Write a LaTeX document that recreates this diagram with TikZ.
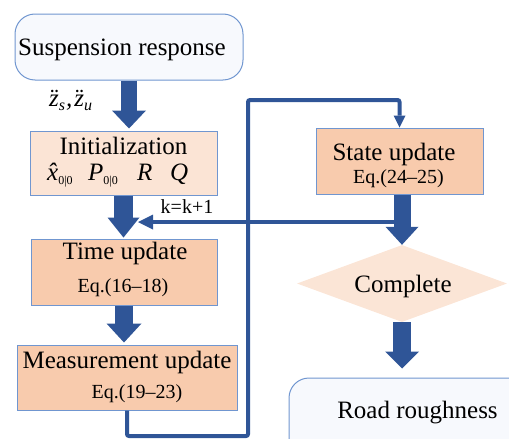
\documentclass[tikz,border=0pt]{standalone}
\usepackage{fontspec}
\setmainfont{LiberationSerif}[
  Extension=.ttf,
  UprightFont=*-Regular,
  ItalicFont=*-Italic,
  BoldFont=*-Bold,
  BoldItalicFont=*-BoldItalic]
\usetikzlibrary{arrows.meta,shapes.geometric}

\definecolor{flowblue}{RGB}{47,85,151}
\definecolor{edgeblue}{RGB}{112,150,208}
\definecolor{peach}{RGB}{248,203,173}
\definecolor{lightpeach}{RGB}{251,228,213}
\definecolor{diamondfill}{RGB}{251,229,214}
\definecolor{paleblue}{RGB}{247,249,253}

\newcommand\bigtext{\fontsize{25}{28}\selectfont}
\newcommand\eqtext{\fontsize{20}{24}\selectfont}
\newcommand\lowidx[2]{\raisebox{-0.4ex}{\fontsize{#1}{#1}\selectfont #2}}

\begin{document}
\begin{tikzpicture}[x=1pt,y=-1pt,
  box/.style={draw=edgeblue, line width=1pt, inner sep=0pt},
  label/.style={inner sep=0pt, anchor=base, font=\bigtext},
  eqlabel/.style={inner sep=0pt, anchor=base, font=\eqtext},
  thinflow/.style={draw=flowblue, line width=4pt, rounded corners=2pt},
  blockflow/.style={draw=flowblue, line width=#1},
]
\useasboundingbox (0,0) rectangle (509,439);
\clip (0,0) rectangle (509,439);

% ---- boxes ----
\node[box, fill=paleblue, rounded corners=20pt, minimum width=228pt, minimum height=66pt] (susp) at (129,47) {};
\node[box, fill=lightpeach, minimum width=187pt, minimum height=64pt] (init) at (123.5,163) {};
\node[box, fill=peach, minimum width=186pt, minimum height=66pt] (time) at (124,272) {};
\node[box, fill=peach, minimum width=220pt, minimum height=65pt] (meas) at (127,377.5) {};
\node[box, fill=peach, minimum width=167pt, minimum height=66pt] (state) at (399.5,161) {};
\node[diamond, fill=diamondfill, inner sep=0pt, minimum width=210pt, minimum height=77pt] (done) at (402,283.5) {};
\node[box, fill=paleblue, rounded corners=20pt, minimum width=251pt, minimum height=92pt] (road) at (414.5,424) {};

% ---- texts ----
\node[label] (susptext) at (122,55) {Suspension response};
\node[label] (inittext) at (123.5,154) {Initialization};
\node[label] (timetext) at (125,259) {Time update};
\node[eqlabel] (timeeq) at (123,292) {Eq.(16–18)};
\node[label] (meastext) at (127,368) {Measurement update};
\node[eqlabel] (measeq) at (137,398) {Eq.(19–23)};
\node[label] (statetext) at (394,160) {State update};
\node[eqlabel] (stateeq) at (398.5,183) {Eq.(24–25)};
\node[label] (donetext) at (403,292) {Complete};
\node[label] (roadtext) at (417.5,418) {Road roughness};

% signals entering the filter
\node[inner sep=0pt, anchor=base west, font=\bigtext\itshape] (zsig) at (49,106)
  {\"z\lowidx{16}{s}\kern1pt,\kern2pt\"z\lowidx{16}{u}};

% initial values
\node[inner sep=0pt, anchor=base west, font=\bigtext\itshape] (xinit) at (47,180) {\^x\lowidx{12}{\upshape 0|0}};
\node[inner sep=0pt, anchor=base west, font=\bigtext\itshape] (pinit) at (88,180) {P\lowidx{12}{\upshape 0|0}};
\node[inner sep=0pt, anchor=base west, font=\bigtext\itshape] (rinit) at (137,180) {R};
\node[inner sep=0pt, anchor=base west, font=\bigtext\itshape] (qinit) at (170,180) {Q};

% ---- loop connectors ----
\coordinate (loopbl) at (248,436);
\coordinate (looptl) at (248,100);
\draw[thinflow, -{Triangle[width=12pt,length=12pt,line width=0pt]}]
  (meas.south) |- (loopbl) -- (looptl) -| (state.north);

\coordinate (kfrom) at (403,222);
\coordinate (kto) at (138,222);
\draw[thinflow, -{Triangle[width=15pt,length=15pt,line width=0pt]}] (kfrom) -- (kto);
\node[eqlabel] (ktext) at (187,213) {k=k+1};

% ---- block arrows ----
\draw[blockflow=16pt, -{Triangle[width=34pt,length=18pt,line width=0pt]}, shorten >=2pt]
  (susp.south) -- (susp.south |- init.north);
\draw[blockflow=19pt, -{Triangle[width=32pt,length=20pt,line width=0pt]}, shorten >=1pt]
  (init.south) -- (init.south |- time.north);
\draw[blockflow=18pt, -{Triangle[width=35pt,length=19pt,line width=0pt]}, shorten >=2pt]
  (time.south) -- (time.south |- meas.north);
\draw[blockflow=17pt, -{Triangle[width=33pt,length=18pt,line width=0pt]}]
  (state.south -| done.north) -- (done.north);
\draw[blockflow=18pt, -{Triangle[width=34pt,length=17pt,line width=0pt]}, shorten >=9pt]
  (done.south) -- (done.south |- road.north);
\end{tikzpicture}
\end{document}
